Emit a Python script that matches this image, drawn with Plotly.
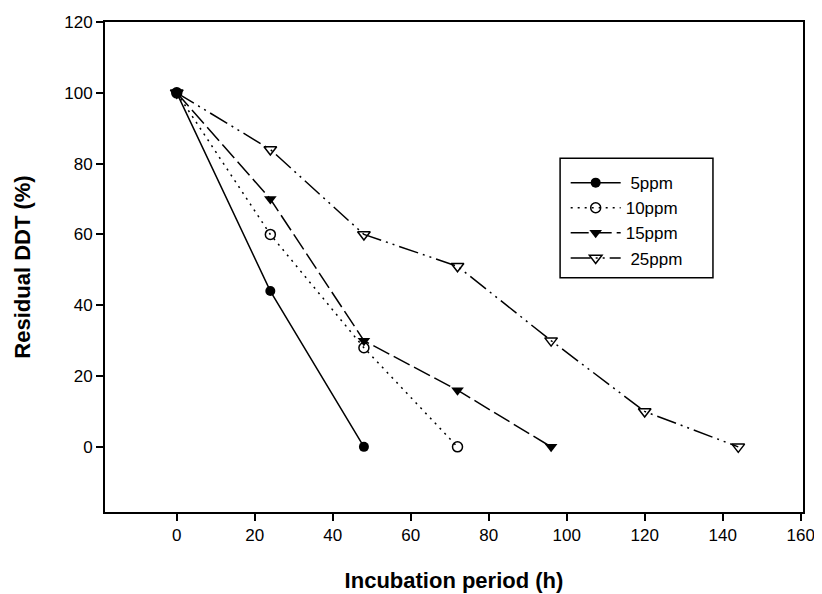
import plotly.graph_objects as go

x5 = [0, 24, 48]
y5 = [100, 44, 0]
x10 = [0, 24, 48, 72]
y10 = [100, 60, 28, 0]
x15 = [0, 24, 48, 72, 96]
y15 = [100, 70, 30, 16, 0]
x25 = [0, 24, 48, 72, 96, 120, 144]
y25 = [100, 84, 60, 51, 30, 10, 0]
names = [" 5ppm", "10ppm", "15ppm", " 25ppm"]
xticks = [0, 20, 40, 60, 80, 100, 120, 140, 160]
yticks = [0, 20, 40, 60, 80, 100, 120]

FONT = "Liberation Sans"

fig = go.Figure()
fig.add_trace(go.Scatter(x=x5, y=y5, name=names[0], mode="lines+markers",
                         line=dict(color="black", width=1.5, dash="solid"),
                         marker=dict(symbol="circle", size=10, color="black")))
fig.add_trace(go.Scatter(x=x10, y=y10, name=names[1], mode="lines+markers",
                         line=dict(color="black", width=1.5, dash="2px,5px"),
                         marker=dict(symbol="circle-open", size=10, color="black", line=dict(width=1.5))))
fig.add_trace(go.Scatter(x=x15, y=y15, name=names[2], mode="lines+markers",
                         line=dict(color="black", width=1.5, dash="18px,5px"),
                         marker=dict(symbol="triangle-down", size=11, color="black")))
fig.add_trace(go.Scatter(x=x25, y=y25, name=names[3], mode="lines+markers",
                         line=dict(color="black", width=1.5, dash="20px,5px,2px,5px,2px,5px"),
                         marker=dict(symbol="triangle-down-open", size=11, color="black", line=dict(width=1.5))))

axis_common = dict(showline=True, linecolor="black", linewidth=2, mirror=True,
                   showgrid=False, zeroline=False, ticks="outside", ticklen=7,
                   tickwidth=1.5, tickcolor="black", automargin=False,
                   tickfont=dict(family=FONT, size=17, color="black"))

fig.add_shape(type="rect", xref="paper", yref="paper",
              x0=0.652, x1=0.871, y0=0.478, y1=0.722,
              line=dict(color="black", width=1.5), fillcolor="white", layer="below")

fig.update_layout(
    width=822, height=594,
    margin=dict(l=97, r=27, t=14, b=90, autoexpand=False),
    plot_bgcolor="white", paper_bgcolor="white",
    xaxis=dict(range=[-18.4, 160.6], tickvals=xticks,
               title=dict(text="<b>Incubation period (h)</b>", standoff=28,
                          font=dict(family=FONT, size=22, color="black")),
               **axis_common),
    yaxis=dict(range=[-18.4, 120], tickvals=yticks,
               title=dict(text="<b>Residual DDT (%)</b>", standoff=28,
                          font=dict(family=FONT, size=22, color="black")),
               **axis_common),
    legend=dict(x=0.660, y=0.708, xanchor="left", yanchor="top",
                bgcolor="rgba(0,0,0,0)", borderwidth=0,
                font=dict(family=FONT, size=17, color="black"),
                tracegroupgap=0, itemwidth=50),
    showlegend=True,
)

fig.write_html("out.html")
